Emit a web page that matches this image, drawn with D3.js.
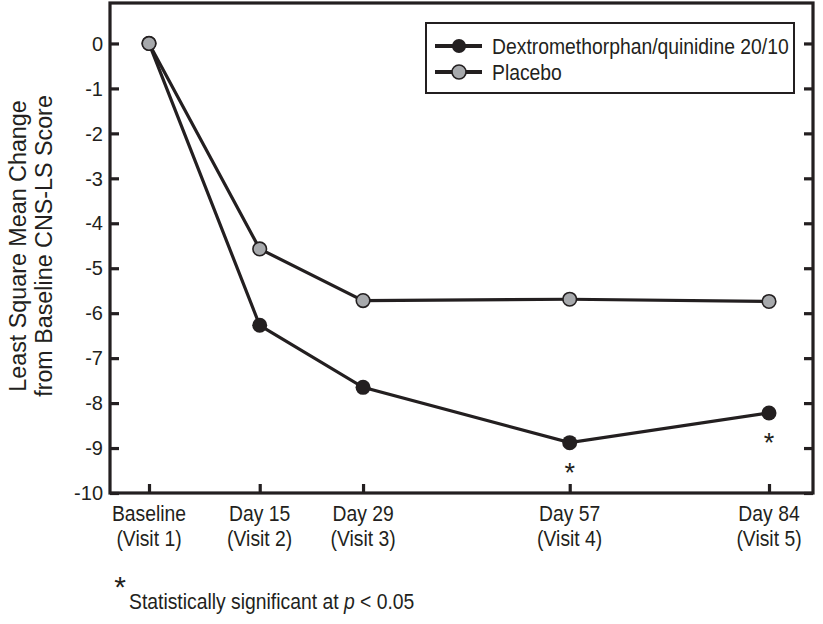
<!DOCTYPE html>
<html>
<head>
<meta charset="utf-8">
<script src="https://cdn.jsdelivr.net/npm/d3@7"></script>
<style>
  body { margin: 0; background: #fff; }
  svg text { fill: #231f20; font-family: 'Liberation Sans', Arial, sans-serif; }
</style>
</head>
<body>
<div class="chart"></div>
<script>
// Data
const days = [0, 15, 29, 57, 84];
const dayLabels = ["Baseline", "Day 15", "Day 29", "Day 57", "Day 84"];
const visitLabels = ["(Visit 1)", "(Visit 2)", "(Visit 3)", "(Visit 4)", "(Visit 5)"];
const dexValues = [0, -6.27, -7.65, -8.88, -8.22];
const placeboValues = [0, -4.57, -5.72, -5.69, -5.74];
const significantDays = [57, 84];
const yTicks = [0, -1, -2, -3, -4, -5, -6, -7, -8, -9, -10];
const seriesNames = ["Dextromethorphan/quinidine 20/10", "Placebo"];

// Size of the svg
let width = 823;
let height = 624;

// Plot box
let margin = { top: 3, right: 10, bottom: 131, left: 110 };

const ink = "#231f20";
const grey = "#a7a9ac";
// no condensed font installed, so squeeze the regular one
const squeeze = 0.86;

let svg = d3.select(".chart").append("svg")
    .attr("width", width)
    .attr("height", height);

// put a text at x, y and squeeze it sideways
function narrowAt(x, y) {
    return `translate(${x},${y}) scale(${squeeze},1)`;
}

// Scales
const xScale = d3.scaleLinear()
    .domain([0, 84])
    .range([149, 769]);

const yScale = d3.scaleLinear()
    .domain([-10, 0.9])
    .range([height - margin.bottom, margin.top]);

let plotRight = width - margin.right;
let plotBottom = height - margin.bottom;

// Left axis, ticks pointing inward
svg.append("g")
    .attr("transform", `translate(${margin.left},0)`)
    .call(d3.axisRight(yScale).tickValues(yTicks).tickSize(9).tickFormat(""))
    .call(g => g.select(".domain").remove())
    .call(g => g.selectAll(".tick line").attr("stroke", ink).attr("stroke-width", 3.2));

// Y tick labels
svg.append("g").selectAll("text")
    .data(yTicks)
    .enter().append("text")
    .attr("x", 103)
    .attr("y", d => yScale(d))
    .attr("dy", "0.36em")
    .attr("text-anchor", "end")
    .style("font-size", "20px")
    .text(d => d);

// Right axis, ticks pointing inward
svg.append("g")
    .attr("transform", `translate(${plotRight},0)`)
    .call(d3.axisLeft(yScale).tickValues(yTicks).tickSize(9).tickFormat(""))
    .call(g => g.select(".domain").remove())
    .call(g => g.selectAll(".tick line").attr("stroke", ink).attr("stroke-width", 3.2));

// Bottom axis, ticks pointing up
svg.append("g")
    .attr("transform", `translate(0,${plotBottom})`)
    .call(d3.axisTop(xScale).tickValues(days).tickSize(9).tickFormat(""))
    .call(g => g.select(".domain").remove())
    .call(g => g.selectAll(".tick line").attr("stroke", ink).attr("stroke-width", 3.2));

// Plot frame
svg.append("rect")
    .attr("x", margin.left)
    .attr("y", margin.top)
    .attr("width", plotRight - margin.left)
    .attr("height", plotBottom - margin.top)
    .attr("fill", "none")
    .attr("stroke", ink)
    .attr("stroke-width", 3.2);

// X labels, two lines each
svg.append("g").selectAll("text")
    .data(days)
    .enter().append("text")
    .attr("transform", d => narrowAt(xScale(d), 521))
    .attr("text-anchor", "middle")
    .style("font-size", "22.5px")
    .text((d, i) => dayLabels[i]);

svg.append("g").selectAll("text")
    .data(days)
    .enter().append("text")
    .attr("transform", d => narrowAt(xScale(d), 546))
    .attr("text-anchor", "middle")
    .style("font-size", "22.5px")
    .text((d, i) => visitLabels[i]);

// Y title
svg.append("text")
    .attr("transform", "translate(0,246) rotate(-90)")
    .attr("text-anchor", "middle")
    .style("font-size", "23.3px")
    .call(t => t.append("tspan").attr("x", 0).attr("y", 25.5).text("Least Square Mean Change"))
    .call(t => t.append("tspan").attr("x", 0).attr("y", 52).text("from Baseline CNS-LS Score"));

// Lines
const line = d3.line()
    .x((d, i) => xScale(days[i]))
    .y(d => yScale(d));

svg.append("path")
    .datum(dexValues)
    .attr("d", line)
    .attr("fill", "none")
    .attr("stroke", ink)
    .attr("stroke-width", 3.2);

svg.append("path")
    .datum(placeboValues)
    .attr("d", line)
    .attr("fill", "none")
    .attr("stroke", ink)
    .attr("stroke-width", 3.2);

// Points, drug first so placebo sits on top at baseline
svg.append("g").selectAll("circle")
    .data(dexValues)
    .enter().append("circle")
    .attr("cx", (d, i) => xScale(days[i]))
    .attr("cy", d => yScale(d))
    .attr("r", 7.5)
    .attr("fill", ink);

svg.append("g").selectAll("circle")
    .data(placeboValues)
    .enter().append("circle")
    .attr("cx", (d, i) => xScale(days[i]))
    .attr("cy", d => yScale(d))
    .attr("r", 6.8)
    .attr("fill", grey)
    .attr("stroke", ink)
    .attr("stroke-width", 1.6);

// Asterisks under the significant points
svg.append("g").selectAll("text")
    .data(significantDays)
    .enter().append("text")
    .attr("x", d => xScale(d))
    .attr("y", d => yScale(dexValues[days.indexOf(d)]) + 39)
    .attr("text-anchor", "middle")
    .style("font-size", "27px")
    .text("*");

// Legend
let legend = svg.append("g");

legend.append("rect")
    .attr("x", 426)
    .attr("y", 23)
    .attr("width", 368)
    .attr("height", 70)
    .attr("fill", "#fff")
    .attr("stroke", ink)
    .attr("stroke-width", 2);

let legendRows = legend.selectAll("g")
    .data(seriesNames)
    .enter().append("g")
    .attr("transform", (d, i) => `translate(0,${46 + i * 26})`);

legendRows.append("line")
    .attr("x1", 435)
    .attr("x2", 482)
    .attr("stroke", ink)
    .attr("stroke-width", 4);

legendRows.append("circle")
    .attr("cx", 459)
    .attr("r", 7)
    .attr("fill", (d, i) => i === 0 ? ink : grey)
    .attr("stroke", ink)
    .attr("stroke-width", (d, i) => i === 0 ? 0 : 1.6);

legendRows.append("text")
    .attr("transform", narrowAt(492, 0))
    .attr("dy", "0.36em")
    .style("font-size", "22.5px")
    .text(d => d);

// Footnote
svg.append("text")
    .attr("x", 120)
    .attr("y", 597)
    .attr("text-anchor", "middle")
    .style("font-size", "30px")
    .text("*");

svg.append("text")
    .attr("transform", narrowAt(129, 609))
    .style("font-size", "22.5px")
    .call(t => t.append("tspan").text("Statistically significant at "))
    .call(t => t.append("tspan").style("font-style", "italic").text("p"))
    .call(t => t.append("tspan").text(" < 0.05"));
</script>
</body>
</html>
